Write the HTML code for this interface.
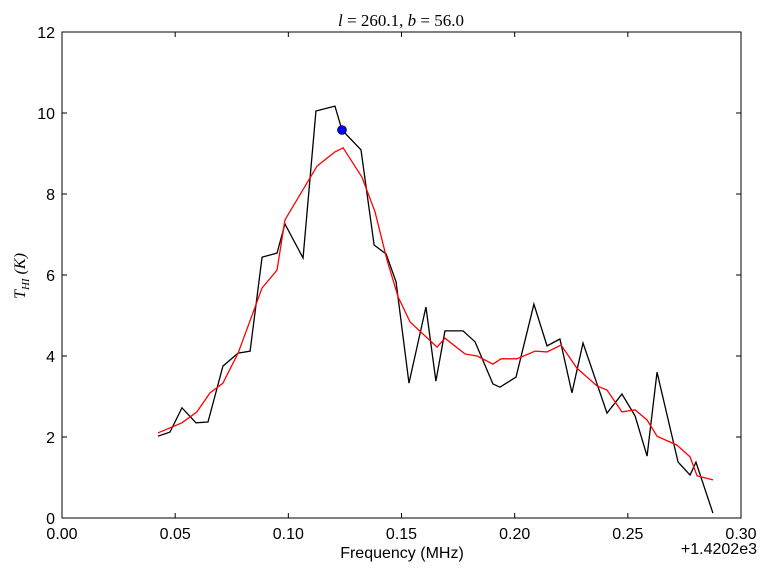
<!DOCTYPE html>
<html><head><meta charset="utf-8"><style>
body{margin:0;background:#fff}
svg{display:block;font-family:"Liberation Sans","DejaVu Sans",sans-serif}
</style></head><body>
<svg id="chart" width="769" height="572">
<rect width="769" height="572" fill="#fff"/>
<g id="marks"></g>
<rect x="62" y="32" width="679" height="486" fill="none" stroke="#000" stroke-width="1"/>
<g id="axes"></g>
<text x="401" y="26" text-anchor="middle" font-size="17" font-family="Liberation Serif,serif"><tspan font-style="italic">l</tspan> = 260.1, <tspan font-style="italic">b</tspan> = 56.0</text>
<text x="402" y="558" text-anchor="middle" font-size="16">Frequency (MHz)</text>
<text transform="translate(25,276) rotate(-90)" text-anchor="middle" font-size="16" font-family="Liberation Serif,serif" font-style="italic">T<tspan font-size="11" dy="4">HI</tspan><tspan dy="-4"> (K)</tspan></text>
<text x="757" y="554" text-anchor="end" font-size="16">+1.4202e3</text>
</svg>
<script>
const blackX=[0.0424,0.0477,0.0530,0.0592,0.0645,0.0711,0.0778,0.0831,0.0884,0.0950,0.0985,0.1065,0.1122,0.1206,0.1237,0.1321,0.1379,0.1432,0.1476,0.1533,0.1608,0.1652,0.1692,0.1772,0.1825,0.1904,0.1935,0.2006,0.2085,0.2143,0.2200,0.2253,0.2302,0.2408,0.2474,0.2532,0.2585,0.2629,0.2722,0.2775,0.2801,0.2876];
const blackY=[2.02,2.12,2.72,2.35,2.37,3.75,4.07,4.12,6.44,6.54,7.26,6.42,10.05,10.17,9.58,9.09,6.74,6.52,5.83,3.33,5.21,3.38,4.62,4.62,4.35,3.31,3.23,3.48,5.28,4.25,4.42,3.09,4.32,2.59,3.06,2.52,1.53,3.60,1.38,1.06,1.38,0.12];
const redX=[0.0424,0.0530,0.0596,0.0654,0.0711,0.0778,0.0884,0.0950,0.0985,0.1127,0.1206,0.1242,0.1325,0.1383,0.1436,0.1485,0.1538,0.1657,0.1692,0.1781,0.1834,0.1904,0.1940,0.2010,0.2090,0.2143,0.2205,0.2275,0.2364,0.2408,0.2474,0.2532,0.2585,0.2629,0.2717,0.2775,0.2806,0.2876];
const redY=[2.10,2.35,2.62,3.09,3.33,4.07,5.68,6.12,7.36,8.69,9.04,9.14,8.42,7.56,6.37,5.46,4.84,4.22,4.44,4.05,4.00,3.80,3.93,3.93,4.12,4.10,4.27,3.70,3.26,3.16,2.62,2.67,2.42,2.02,1.80,1.51,1.04,0.94];
const markerX=[0.1237];
const markerY=[9.58];
const xTicks=[0,0.05,0.10,0.15,0.20,0.25,0.30];
const xTickLabels=["0.00","0.05","0.10","0.15","0.20","0.25","0.30"];
const yTicks=[0,2,4,6,8,10,12];
const yTickLabels=["0","2","4","6","8","10","12"];

const NS="http://www.w3.org/2000/svg";
const L=62,R=741,T=32,B=518;
const sx=v=>L+(v-0)/(0.30-0)*(R-L);
const sy=v=>B-(v-0)/(12-0)*(B-T);
const marks=document.getElementById('marks'),axes=document.getElementById('axes');
function poly(xs,ys,color,name){
  const p=document.createElementNS(NS,'polyline');
  p.setAttribute('points',xs.map((x,i)=>sx(x)+','+sy(ys[i])).join(' '));
  p.setAttribute('fill','none');p.setAttribute('stroke',color);p.setAttribute('stroke-width','1.3');
  
  
  marks.appendChild(p);
}
poly(blackX,blackY,'#000','raw-spectrum-line');
poly(redX,redY,'#f00','smoothed-spectrum-line');
markerX.forEach((x,i)=>{
  const c=document.createElementNS(NS,'circle');
  c.setAttribute('cx',sx(x));c.setAttribute('cy',sy(markerY[i]));c.setAttribute('r','4.5');
  c.setAttribute('fill','#00f');c.setAttribute('stroke','#000');c.setAttribute('stroke-width','0.6');
  
  
  marks.appendChild(c);
});
function line(x1,y1,x2,y2,name){
  const l=document.createElementNS(NS,'line');
  l.setAttribute('x1',x1);l.setAttribute('y1',y1);l.setAttribute('x2',x2);l.setAttribute('y2',y2);
  l.setAttribute('stroke','#000');l.setAttribute('stroke-width','1');
  
  
  axes.appendChild(l);
}
function txt(x,y,s,anchor,name){
  const t=document.createElementNS(NS,'text');
  t.setAttribute('x',x);t.setAttribute('y',y);t.setAttribute('text-anchor',anchor);t.setAttribute('font-size','16');
  t.textContent=s;
  
  
  axes.appendChild(t);
}
xTicks.forEach((v,i)=>{
  const x=sx(v);
  line(x,B,x,B-5,'x-tick');line(x,T,x,T+5,'x-tick-top');
  txt(x,B+21,xTickLabels[i],'middle','x-tick-label');
});
yTicks.forEach((v,i)=>{
  const y=sy(v);
  line(L,y,L+5,y,'y-tick');line(R,y,R-5,y,'y-tick-right');
  txt(L-7,y+6,yTickLabels[i],'end','y-tick-label');
});
</script>
</body></html>
